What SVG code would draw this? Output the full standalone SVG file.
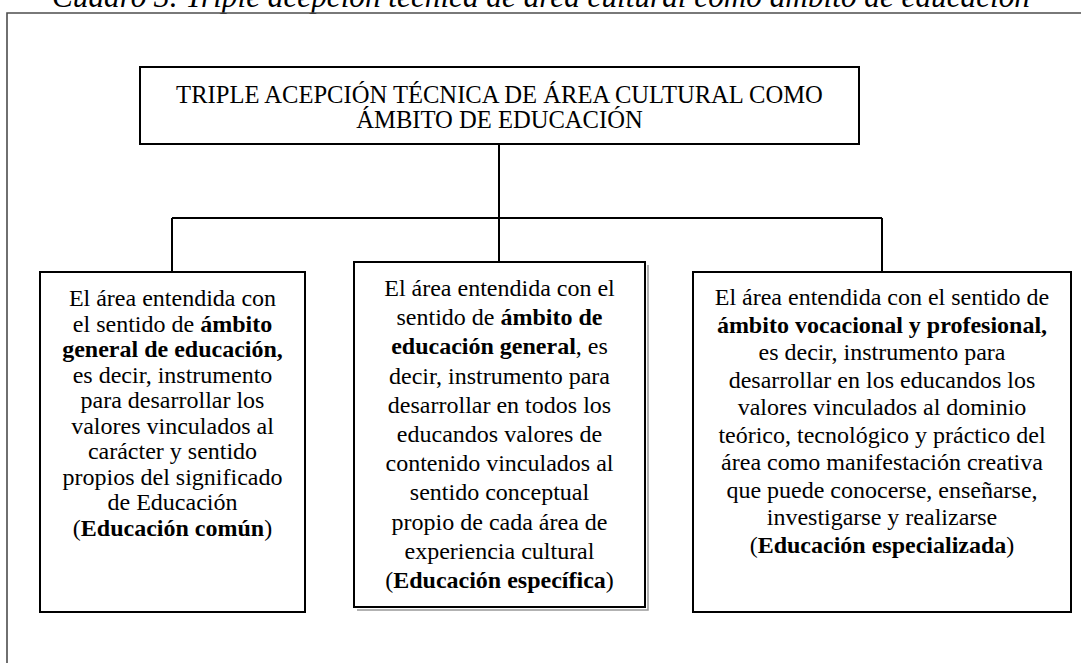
<svg xmlns="http://www.w3.org/2000/svg" width="1081" height="663" viewBox="0 0 1081 663">
<style>
.box{fill:#fff;stroke:#000;stroke-width:2}
.frame{fill:none;stroke:#4d4d4d;stroke-width:1.6}
.conn{fill:none;stroke:#000;stroke-width:2}
.t{font-family:"Liberation Serif","Times New Roman",serif;font-size:24px;fill:#000;text-anchor:middle}
.tt{font-family:"Liberation Serif","Times New Roman",serif;font-size:24.6px;fill:#000;text-anchor:middle}
.b{font-weight:bold}
.cap{font-family:"Liberation Serif","Times New Roman",serif;font-size:31px;font-style:italic;fill:#000}
</style>
<rect x="0" y="0" width="1081" height="663" fill="#fff"/>
<text class="cap" x="52" y="7" textLength="978" lengthAdjust="spacingAndGlyphs">Cuadro 3. Triple acepción técnica de área cultural como ámbito de educación</text>
<path class="frame" d="M7,663 V13 H1081"/>
<g id="connectors">
<path class="conn" d="M499,144 V262"/>
<path class="conn" d="M172,218 H882"/>
<path class="conn" d="M172,218 V272"/>
<path class="conn" d="M882,218 V272"/>
</g>
<g id="title">
<rect class="box" x="140" y="67" width="719" height="77"/>
<text class="tt" x="499.5" y="103">TRIPLE ACEPCIÓN TÉCNICA DE ÁREA CULTURAL COMO</text>
<text class="tt" x="499.5" y="128">ÁMBITO DE EDUCACIÓN</text>
</g>
<g id="left">
<rect class="box" x="40" y="272" width="265" height="340"/>
<text class="t" x="172.5" y="306">El área entendida con</text>
<text class="t" x="172.5" y="331.5">el sentido de <tspan class="b">ámbito</tspan></text>
<text class="t" x="172.5" y="357"><tspan class="b">general de educación,</tspan></text>
<text class="t" x="172.5" y="382.5">es decir, instrumento</text>
<text class="t" x="172.5" y="408">para desarrollar los</text>
<text class="t" x="172.5" y="433.5">valores vinculados al</text>
<text class="t" x="172.5" y="459">carácter y sentido</text>
<text class="t" x="172.5" y="484.5">propios del significado</text>
<text class="t" x="172.5" y="510">de Educación</text>
<text class="t" x="172.5" y="535.5">(<tspan class="b">Educación común</tspan>)</text>
</g>
<g id="middle">
<path d="M357,610 H648 V265" fill="none" stroke="#999" stroke-width="1.5"/>
<rect class="box" x="354" y="262" width="291" height="345"/>
<text class="t" x="499.5" y="296">El área entendida con el</text>
<text class="t" x="499.5" y="325.2">sentido de <tspan class="b">ámbito de</tspan></text>
<text class="t" x="499.5" y="354.4"><tspan class="b">educación general</tspan>, es</text>
<text class="t" x="499.5" y="383.6">decir, instrumento para</text>
<text class="t" x="499.5" y="412.8">desarrollar en todos los</text>
<text class="t" x="499.5" y="442">educandos valores de</text>
<text class="t" x="499.5" y="471.2">contenido vinculados al</text>
<text class="t" x="499.5" y="500.4">sentido conceptual</text>
<text class="t" x="499.5" y="529.6">propio de cada área de</text>
<text class="t" x="499.5" y="558.8">experiencia cultural</text>
<text class="t" x="499.5" y="588">(<tspan class="b">Educación específica</tspan>)</text>
</g>
<g id="right">
<rect class="box" x="693" y="272" width="378" height="340"/>
<text class="t" x="882" y="305">El área entendida con el sentido de</text>
<text class="t" x="882" y="332.5"><tspan class="b">ámbito vocacional y profesional,</tspan></text>
<text class="t" x="882" y="360">es decir, instrumento para</text>
<text class="t" x="882" y="387.5">desarrollar en los educandos los</text>
<text class="t" x="882" y="415">valores vinculados al dominio</text>
<text class="t" x="882" y="442.5">teórico, tecnológico y práctico del</text>
<text class="t" x="882" y="470">área como manifestación creativa</text>
<text class="t" x="882" y="497.5">que puede conocerse, enseñarse,</text>
<text class="t" x="882" y="525">investigarse y realizarse</text>
<text class="t" x="882" y="552.5">(<tspan class="b">Educación especializada</tspan>)</text>
</g>
</svg>
